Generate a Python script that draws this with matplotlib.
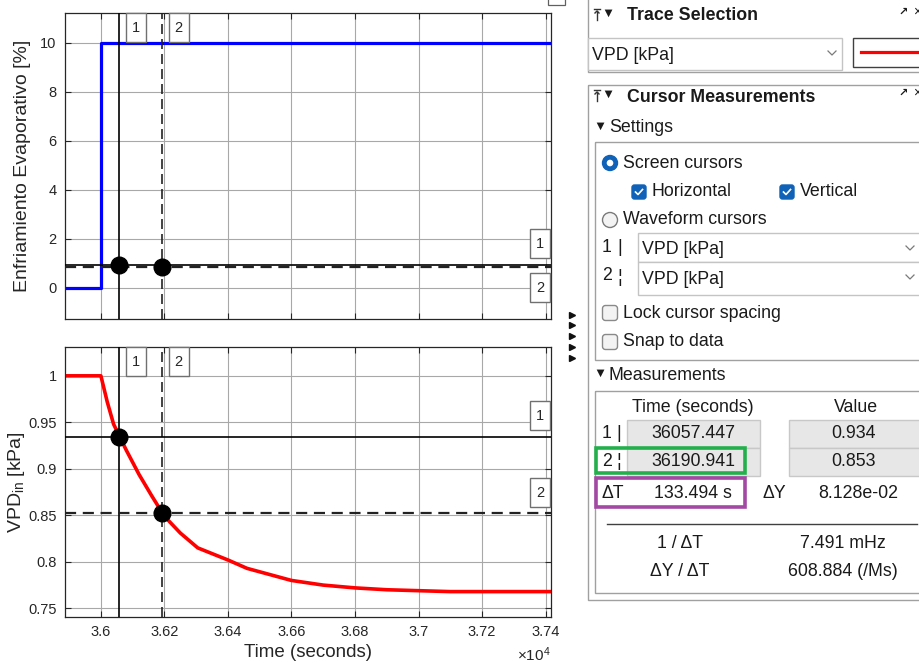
import matplotlib
matplotlib.use('Agg')
import matplotlib.pyplot as plt
from matplotlib.patches import Rectangle, Circle, FancyBboxPatch

plt.rcParams['font.family'] = ['Liberation Sans', 'DejaVu Sans']
plt.rcParams['mathtext.fontset'] = 'custom'
plt.rcParams['mathtext.rm'] = 'Liberation Sans'
plt.rcParams['mathtext.it'] = 'Liberation Sans:italic'

# evaporative cooling step (%)
cool_t = [35887, 36000, 37417]
cool_y = [0, 10, 10]

# inside VPD response (kPa)
vpd_t = [35887, 36000, 36020, 36040, 36080, 36120, 36160, 36200, 36250, 36305,
         36400, 36460, 36600, 36700, 36800, 36900, 37000, 37100, 37200, 37417]
vpd_y = [1.0, 1.0, 0.972, 0.948, 0.920, 0.894, 0.871, 0.849, 0.831, 0.815,
         0.802, 0.793, 0.780, 0.775, 0.772, 0.770, 0.769, 0.768, 0.768, 0.768]

# screen cursor readings
cursor_t = [36057.447, 36190.941]
cursor_v = [0.934, 0.853]
delta_y = 8.128e-02
rate_text = '608.884 (/Ms)'

xticks = [36000, 36200, 36400, 36600, 36800, 37000, 37200, 37400]
top_yticks = [0, 2, 4, 6, 8, 10]
bot_yticks = [0.75, 0.8, 0.85, 0.9, 0.95, 1.0]

W, H = 920, 663
fig = plt.figure(figsize=(W / 100, H / 100), dpi=100)


def frame(l, t, r, b):
    return [l / W, 1 - b / H, (r - l) / W, (b - t) / H]


ax1 = fig.add_axes(frame(65, 13, 551, 319))
ax2 = fig.add_axes(frame(65, 347, 551, 617))

ink = '#262626'
for ax in (ax1, ax2):
    ax.set_xlim(35887, 37417)
    ax.set_xticks(xticks)
    ax.grid(True, color='#a8a8a8', lw=0.8)
    ax.set_axisbelow(True)
    ax.tick_params(direction='in', top=True, right=True, length=4,
                   labelsize=10.5, colors=ink, pad=6)
    for sp in ax.spines.values():
        sp.set_color(ink)
        sp.set_linewidth(0.9)
    # cursors
    ax.axvline(cursor_t[0], color='k', lw=1.2, zorder=3)
    ax.axvline(cursor_t[1], color='#222222', lw=1.2, ls=(0, (6, 3)), zorder=3)
    ax.axhline(cursor_v[0], color='k', lw=1.2, zorder=3)
    ax.axhline(cursor_v[1], color='#222222', lw=1.6, ls=(0, (5, 3)), zorder=3)
    ax.plot(cursor_t, cursor_v, 'o', color='k', ms=12, zorder=5)

ax1.plot(cool_t, cool_y, color='#0000ff', lw=2.3, drawstyle='steps-post', zorder=2)
ax1.set_ylim(-1.27, 11.22)
ax1.set_yticks(top_yticks)
ax1.tick_params(labelbottom=False)
ax1.set_ylabel('Enfriamiento Evaporativo [%]', fontsize=14, color=ink)
ax1.yaxis.set_label_coords(-0.07, 0.5)

ax2.plot(vpd_t, vpd_y, color='#ff0000', lw=2.6, zorder=2)
ax2.set_ylim(0.7407, 1.031)
ax2.set_yticks(bot_yticks)
ax2.set_yticklabels([f'{v:g}' for v in bot_yticks])
ax2.set_xticklabels([f'{t / 1e4:g}' for t in xticks])
ax2.set_ylabel(r'VPD$_{\mathrm{in}}$ [kPa]', fontsize=14, color=ink)
ax2.yaxis.set_label_coords(-0.078, 0.5)
ax2.set_xlabel('Time (seconds)', fontsize=13.5, color=ink)
ax2.xaxis.set_label_coords(0.5, -0.1)

# overlay in pixel units for cursor tags and the side panel
ui = fig.add_axes([0, 0, 1, 1])
ui.set_xlim(0, W)
ui.set_ylim(H, 0)
ui.axis('off')
ui.set_zorder(10)


def to_px(ax, x, y):
    return ui.transData.inverted().transform(ax.transData.transform((x, y)))


def tag(x, y, label):
    ui.add_patch(Rectangle((x, y), 20, 29, fc='white', ec='#707070', lw=1))
    ui.text(x + 10, y + 15, label, ha='center', va='center', fontsize=10.5, color=ink)


for ax in (ax1, ax2):
    top = to_px(ax, cursor_t[0], ax.get_ylim()[1])[1]
    for i, t in enumerate(cursor_t):
        x = to_px(ax, t, 0)[0]
        tag(x + 7, top, str(i + 1))

y1 = to_px(ax1, 36000, cursor_v[0])[1]
y2 = to_px(ax1, 36000, cursor_v[1])[1]
tag(530, y1 - 36, '1')
tag(530, y2 + 6, '2')
y1 = to_px(ax2, 36000, cursor_v[0])[1]
y2 = to_px(ax2, 36000, cursor_v[1])[1]
tag(530, y1 - 36, '1')
tag(530, y2 - 35, '2')

ui.text(534, 655, r'$\times10^{4}$', ha='center', va='center', fontsize=11, color=ink)
ui.add_patch(Rectangle((548, -4), 17, 9, fc='white', ec='#606060', lw=0.9))
ui.plot([571.7] * 5, [315, 325, 336, 347, 358], ls='none', marker='>', ms=4.5, color='#111111')

# ---- side panel ----
txt_c = '#1a1a1a'
fs = 12.8


def txt(x, y, s, ha='left', size=fs, weight='normal', color=txt_c):
    ui.text(x, y, s, ha=ha, va='center', fontsize=size, fontweight=weight, color=color)


def box(x0, y0, x1, y1, ec='#a0a0a0', fc='none', lw=1.0):
    ui.add_patch(Rectangle((x0, y0), x1 - x0, y1 - y0, fc=fc, ec=ec, lw=lw))


def chevron(x, y):
    ui.plot([x - 4, x, x + 4], [y - 2, y + 2, y - 2], color='#7a7a7a', lw=0.9)


def pin(x, y):
    ui.plot([x - 3, x + 3], [y - 6, y - 6], color='#333333', lw=1)
    ui.plot([x, x], [y - 4, y + 5], color='#333333', lw=1)
    ui.plot([x - 2, x, x + 2], [y - 2, y - 4, y - 2], color='#333333', lw=1)


def header(y, title):
    pin(597, y)
    txt(608, y - 1, '▼', ha='center', size=9.5)
    txt(627, y + 1, title, size=12.8, weight='bold')
    txt(903, y - 3, '↗', ha='center', size=8, weight='bold')
    txt(917, y - 3, '×', ha='center', size=10)


def radio(x, y, on):
    if on:
        ui.add_patch(Circle((x, y), 7.5, fc='#0f62b8', ec='#0f62b8'))
        ui.add_patch(Circle((x, y), 3.3, fc='white', ec='none'))
    else:
        ui.add_patch(Circle((x, y), 7.5, fc='#f3f3f3', ec='#7a7a7a', lw=1))


def check(x, y, on):
    if on:
        ui.add_patch(FancyBboxPatch((x - 7, y - 7), 14, 14, boxstyle='round,pad=0,rounding_size=2.5',
                                    fc='#0f62b8', ec='#0f62b8'))
        ui.plot([x - 3.5, x - 1, x + 3.5], [y, y + 2.5, y - 2.5], color='white', lw=1.2)
    else:
        ui.add_patch(FancyBboxPatch((x - 7.5, y - 7.5), 15, 15, boxstyle='round,pad=0,rounding_size=3',
                                    fc='#f3f3f3', ec='#8a8a8a', lw=1))


# trace selection
box(588, -5, 930, 72)
header(15, 'Trace Selection')
box(588, 38, 842, 70, ec='#c4c4c4', fc='white')
txt(592, 55, 'VPD [kPa]')
chevron(832, 53)
box(853, 38, 930, 67, ec='#404040', fc='white')
ui.plot([861, 918], [52, 52], color='#ff0000', lw=2.3)

# cursor measurements
box(588, 85, 930, 600)
header(96, 'Cursor Measurements')
txt(600, 127, '▼', ha='center', size=9.5)
txt(609, 128, 'Settings')
box(595, 142, 930, 360)
radio(610, 163, True)
txt(623, 163, 'Screen cursors')
check(639, 192, True)
txt(652, 192, 'Horizontal')
check(787, 192, True)
txt(800, 192, 'Vertical')
radio(610, 220, False)
txt(623, 220, 'Waveform cursors')
txt(607, 248, '1', ha='center')
txt(620, 248, '|', ha='center')
txt(607, 276, '2', ha='center')
txt(620, 277, '¦', ha='center')
box(638, 233, 930, 262, ec='#c4c4c4', fc='white')
box(638, 262, 930, 295, ec='#c4c4c4', fc='white')
txt(642, 250, 'VPD [kPa]')
txt(642, 279, 'VPD [kPa]')
chevron(910, 248)
chevron(910, 277)
check(610, 313, False)
txt(623, 313, 'Lock cursor spacing')
check(610, 342, False)
txt(623, 342, 'Snap to data')

txt(600, 374, '▼', ha='center', size=9.5)
txt(609, 375, 'Measurements')
box(595, 391, 930, 593)
txt(693, 408, 'Time (seconds)', ha='center')
txt(856, 408, 'Value', ha='center')
marks = ['|', '¦']
for i in range(2):
    y0 = 420 + i * 28
    ym = y0 + 14
    txt(607, ym, str(i + 1), ha='center')
    txt(619, ym, marks[i], ha='center')
    box(627, y0, 760, y0 + 28, ec='#c8c8c8', fc='#e7e7e7')
    box(789, y0, 930, y0 + 28, ec='#c8c8c8', fc='#e7e7e7')
    txt(693, ym, f'{cursor_t[i]:.3f}', ha='center')
    txt(854, ym, f'{cursor_v[i]:.3f}', ha='center')

ui.add_patch(Rectangle((596, 448), 149, 25, fc='none', ec='#22b04b', lw=2.6))
ui.add_patch(Rectangle((596, 478), 149, 29, fc='white', ec='#a349a4', lw=2.6))
dt = cursor_t[1] - cursor_t[0]
txt(602, 493, 'ΔT')
txt(693, 493, f'{dt:.3f} s', ha='center')
txt(774, 493, 'ΔY', ha='center')
txt(858, 493, f'{delta_y:.3e}', ha='center')
ui.plot([607, 917], [524, 524], color='#404040', lw=1)
txt(680, 544, '1 / ΔT', ha='center')
txt(843, 544, f'{1000 / dt:.3f} mHz', ha='center')
txt(680, 572, 'ΔY / ΔT', ha='center')
txt(843, 572, rate_text, ha='center')

fig.savefig('out.png', dpi=100, facecolor='white')
